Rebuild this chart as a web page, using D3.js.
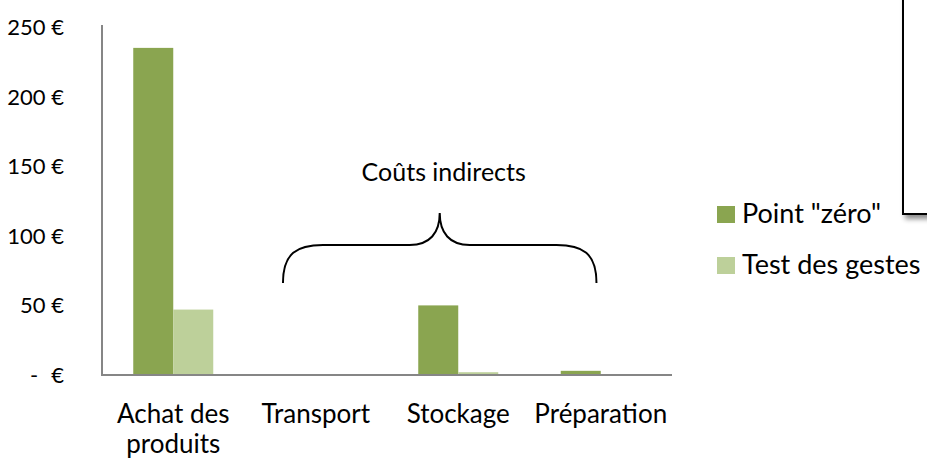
<!DOCTYPE html>
<html>
<head>
<meta charset="utf-8">
<script src="https://cdn.jsdelivr.net/npm/d3@7"></script>
<style>
  body { margin: 0; background: #fff; }
  text { font-family: Lato, "Open Sans", sans-serif; fill: #000; }
</style>
</head>
<body>
<div id="chart"></div>
<script>
// chart data
var categories = [["Achat des", "produits"], ["Transport"], ["Stockage"], ["Préparation"]];
var seriesNames = ['Point "zéro"', "Test des gestes"];
var pointZero = [235, 0, 50, 3];
var testGestes = [47, 0, 2, 0.5];
var yTicks = [0, 50, 100, 150, 200, 250];
var colors = ["#8aa550", "#bdd09a"];

var svgWidth = 927
var svgHeight = 463

var svg = d3.select("#chart")
  .append("svg")
  .attr("width", svgWidth)
  .attr("height", svgHeight);

var catKeys = categories.map(c => c.join(" "));

var xScale = d3.scaleBand()
  .domain(catKeys)
  .range([102, 672]);

var bw = xScale.bandwidth();

var x1 = d3.scaleBand()
  .domain(seriesNames)
  .range([bw / 2 - 40, bw / 2 + 40]);

var yScale = d3.scaleLinear()
  .domain([0, 250])
  .range([375, 27]);

// drop shadow for the cut-off box
var defs = svg.append("defs");
var f = defs.append("filter").attr("id", "shadow")
  .attr("x", "-20%").attr("y", "-20%").attr("width", "160%").attr("height", "160%");
f.append("feDropShadow").attr("dx", 3).attr("dy", 4).attr("stdDeviation", 2.5)
  .attr("flood-color", "#000").attr("flood-opacity", 0.45);

svg.append("rect")
  .attr("x", 903)
  .attr("y", -10)
  .attr("width", 80)
  .attr("height", 224)
  .attr("fill", "#fff")
  .attr("stroke", "#000")
  .attr("stroke-width", 2)
  .attr("filter", "url(#shadow)");

// bars
var rows = catKeys.map((k, i) => ({ key: k, values: [pointZero[i], testGestes[i]] }));

var groups = svg.selectAll(".grp")
  .data(rows)
  .enter()
  .append("g")
  .attr("transform", d => `translate(${xScale(d.key)},0)`);

groups.selectAll("rect")
  .data(d => d.values.map((v, j) => ({ name: seriesNames[j], v: v, j: j })))
  .enter()
  .append("rect")
  .attr("x", d => x1(d.name))
  .attr("width", x1.bandwidth())
  .attr("y", d => yScale(d.v))
  .attr("height", d => yScale(0) - yScale(d.v))
  .attr("fill", d => colors[d.j]);

// axes
svg.append("line")
  .attr("x1", 102).attr("x2", 102)
  .attr("y1", 25).attr("y2", 375)
  .attr("stroke", "#868686").attr("stroke-width", 2);

svg.append("line")
  .attr("x1", 101).attr("x2", 672)
  .attr("y1", 375).attr("y2", 375)
  .attr("stroke", "#868686").attr("stroke-width", 2);

svg.selectAll(".ytick")
  .data(yTicks)
  .enter()
  .append("text")
  .attr("x", 64)
  .attr("y", d => yScale(d) + 8)
  .attr("text-anchor", "end")
  .style("font-size", "22px")
  .text(d => d === 0 ? "€" : d + " €");

svg.append("text")
  .attr("x", 30)
  .attr("y", yScale(0) + 8)
  .style("font-size", "22px")
  .text("-");

// category labels
var labels = svg.selectAll(".xlab")
  .data(categories)
  .enter()
  .append("text")
  .attr("text-anchor", "middle")
  .style("font-size", "26px")
  .attr("x", (d, i) => xScale(catKeys[i]) + bw / 2)
  .attr("y", 423);

labels.selectAll("tspan")
  .data(d => d)
  .enter()
  .append("tspan")
  .attr("x", function() { return d3.select(this.parentNode).attr("x"); })
  .attr("dy", (d, i) => i === 0 ? 0 : 30)
  .text(d => d);

// brace annotation
var bx0 = xScale("Transport") + 0.27 * bw;
var bx1 = xScale("Préparation") + 0.47 * bw;
var bm = (bx0 + bx1) / 2;
var yBot = 283, yMid = 245, yTip = 213;
var brace = d3.path();
brace.moveTo(bx0, yBot);
brace.bezierCurveTo(bx0, yMid + 8, bx0 + 14, yMid, bx0 + 40, yMid);
brace.lineTo(bm - 30, yMid);
brace.bezierCurveTo(bm - 10, yMid, bm, yMid - 12, bm, yTip);
brace.bezierCurveTo(bm, yMid - 12, bm + 10, yMid, bm + 30, yMid);
brace.lineTo(bx1 - 40, yMid);
brace.bezierCurveTo(bx1 - 14, yMid, bx1, yMid + 8, bx1, yBot);

svg.append("path")
  .attr("d", brace.toString())
  .attr("fill", "none")
  .attr("stroke", "#000")
  .attr("stroke-width", 2);

svg.append("text")
  .attr("x", bm + 4)
  .attr("y", 181)
  .attr("text-anchor", "middle")
  .style("font-size", "25px")
  .text("Coûts indirects");

// legend
var legend = svg.selectAll(".leg")
  .data(seriesNames)
  .enter()
  .append("g")
  .attr("transform", (d, i) => `translate(717, ${206 + i * 51})`);

legend.append("rect")
  .attr("width", 18)
  .attr("height", 17)
  .attr("fill", (d, i) => colors[i]);

legend.append("text")
  .attr("x", 25)
  .attr("y", 17)
  .style("font-size", "27px")
  .text(d => d);
</script>
</body>
</html>
